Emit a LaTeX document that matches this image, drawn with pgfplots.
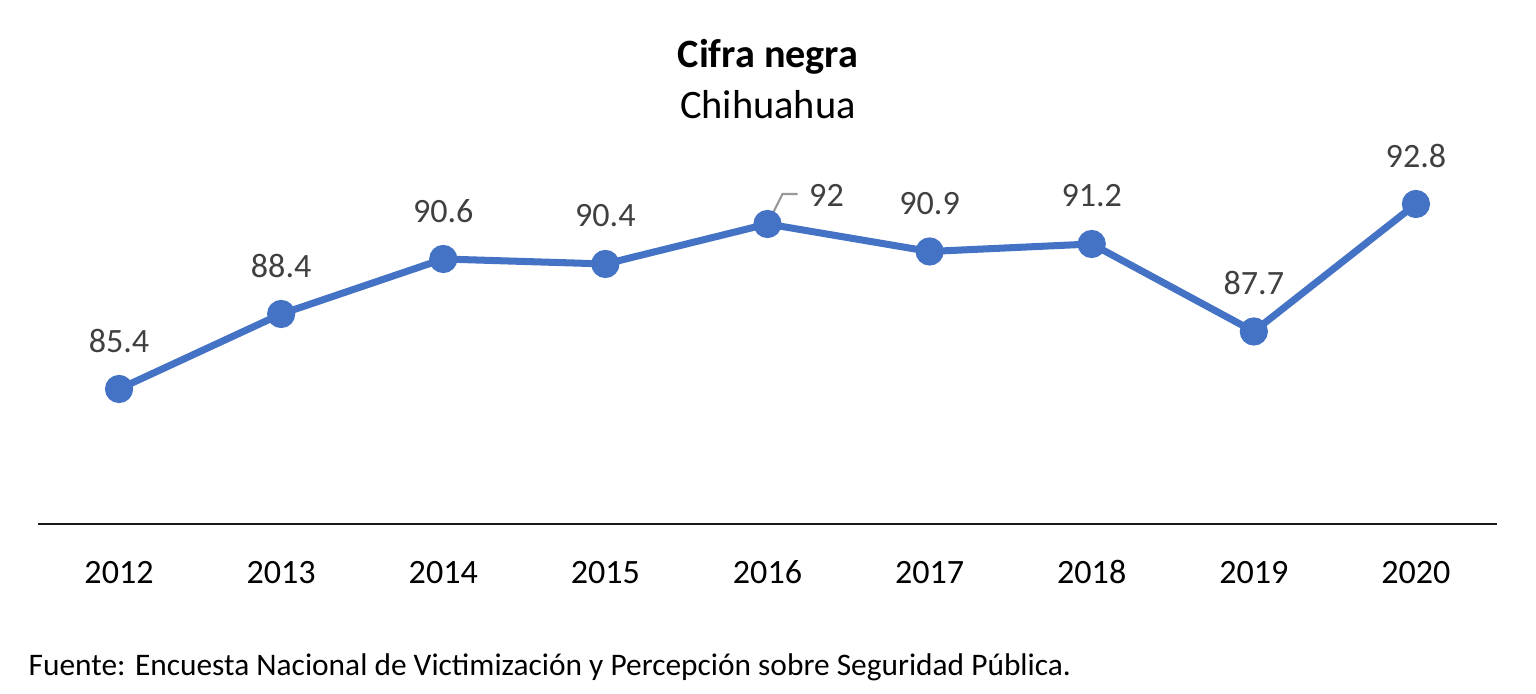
\documentclass[border=0pt]{standalone}
\usepackage{pgfplots}
\pgfplotsset{compat=1.18}
\usepackage{fontspec}
\setmainfont{Carlito}
\definecolor{xlblue}{HTML}{4472C4}
\definecolor{lblgray}{HTML}{404040}
\begin{document}
\begin{tikzpicture}
\useasboundingbox (0,0) rectangle (15.36,6.94);
\begin{axis}[
  at={(0.38cm,1.70cm)}, anchor=south west,
  scale only axis, width=14.59cm, height=3.5cm,
  xmin=-0.5, xmax=8.5, ymin=80, ymax=94,
  axis x line*=bottom, axis y line=none,
  x axis line style={black!90, line width=0.6pt, -},
  xtick={0,...,8}, xticklabels={2012,2013,2014,2015,2016,2017,2018,2019,2020},
  xtick style={draw=none},
  xticklabel style={font=\fontsize{9.7}{12}\selectfont, text height=1.6ex, text depth=0.2ex, yshift=-0.2cm},
  clip=false,
]
\addplot[color=xlblue, line width=2pt, mark=*, mark size=3pt, mark options={fill=xlblue, draw=xlblue}]
  coordinates {(0,85.4) (1,88.4) (2,90.6) (3,90.4) (4,92) (5,90.9) (6,91.2) (7,87.7) (8,92.8)};
\addplot[draw=none, mark=none, nodes near coords,
  nodes near coords style={anchor=center, yshift=0.48cm, text=lblgray, font=\fontsize{9.7}{12}\selectfont,
    /pgf/number format/.cd, fixed, precision=1, assume math mode=true}]
  coordinates {(0,85.4) (1,88.4) (2,90.6) (3,90.4) (5,90.9) (6,91.2) (7,87.7) (8,92.8)};
\draw[gray!80, line width=0.6pt] ([xshift=0.03cm,yshift=0.06cm]axis cs:4,92) -- ([xshift=0.15cm,yshift=0.30cm]axis cs:4,92) -- ([xshift=0.30cm,yshift=0.30cm]axis cs:4,92);
\node[text=lblgray, font=\fontsize{9.7}{12}\selectfont, anchor=center] at ([xshift=0.59cm,yshift=0.29cm]axis cs:4,92) {92};
\end{axis}
\node[font=\fontsize{11.45}{13}\selectfont\bfseries] at (7.68,6.37) {Cifra negra};
\node[font=\fontsize{11.5}{13}\selectfont] at (7.68,5.89) {Chihuahua};
\node[font=\fontsize{8.93}{10}\selectfont, anchor=west, inner sep=0pt] at (0.28,0.27) {Fuente: Encuesta Nacional de Victimización y Percepción sobre Seguridad Pública.};
\end{tikzpicture}
\end{document}
